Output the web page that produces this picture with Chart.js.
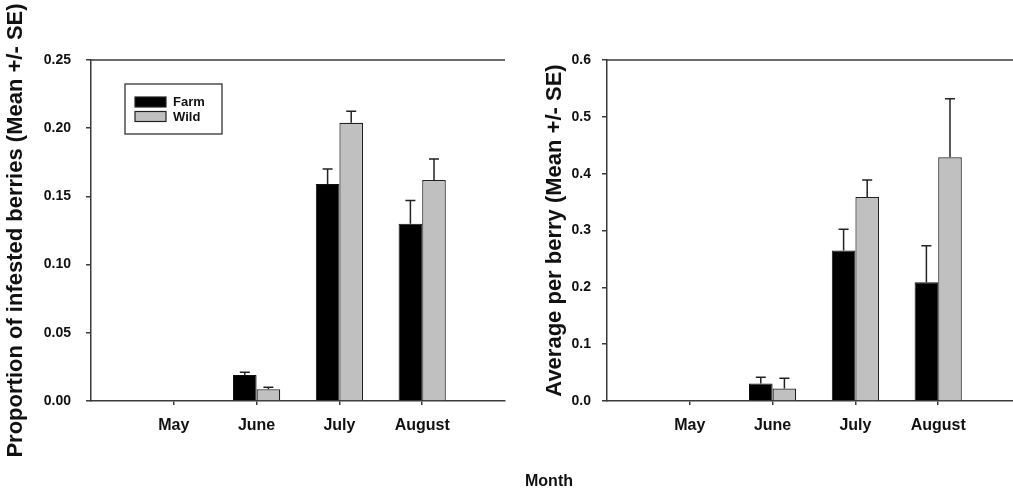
<!DOCTYPE html>
<html>
<head>
<meta charset="utf-8">
<script src="https://cdn.jsdelivr.net/npm/chart.js@4/dist/chart.umd.min.js"></script>
<style>
  html, body { margin: 0; padding: 0; background: #fff; }
  #wrap { position: relative; width: 1013px; height: 494px; overflow: hidden; }
  canvas { position: absolute; top: 0; }
  #month {
    position: absolute; left: 0; width: 1098px; top: 472px;
    text-align: center; font: bold 16px "Liberation Sans", Arial, sans-serif; color: #111;
  }
</style>
</head>
<body>
<div id="wrap">
  <canvas id="leftChart" width="506" height="494" style="left:0"></canvas>
  <canvas id="rightChart" width="520" height="494" style="left:506px"></canvas>
  <div id="month">Month</div>
</div>
<script>
// categories
const months = ['May', 'June', 'July', 'August'];
const seriesNames = ['Farm', 'Wild'];

// proportion of infested berries
const farmProp = [0, 0.019, 0.159, 0.130];
const farmPropSE = [0, 0.002, 0.011, 0.017];
const wildProp = [0, 0.0086, 0.204, 0.162];
const wildPropSE = [0, 0.0014, 0.0084, 0.0154];

// average per berry
const farmAvg = [0, 0.031, 0.265, 0.209];
const farmAvgSE = [0, 0.011, 0.037, 0.064];
const wildAvg = [0, 0.022, 0.359, 0.429];
const wildAvgSE = [0, 0.018, 0.030, 0.103];

// y axis ticks
const leftTicks = [0, 0.05, 0.10, 0.15, 0.20, 0.25];
const rightTicks = [0, 0.1, 0.2, 0.3, 0.4, 0.5, 0.6];

const FONT = '"Liberation Sans", Arial, sans-serif';
const INK = '#111';
const AXIS = '#3a3a3a';

// upward-only error bars with a cap
const errorBars = {
  id: 'errorBars',
  afterDatasetsDraw(chart) {
    const ctx = chart.ctx;
    const yScale = chart.scales.y;
    ctx.save();
    ctx.strokeStyle = '#222';
    ctx.lineWidth = 1.5;
    chart.data.datasets.forEach((ds, d) => {
      const meta = chart.getDatasetMeta(d);
      meta.data.forEach((bar, i) => {
        const se = ds.errors[i];
        if (!se) return;
        const top = yScale.getPixelForValue(ds.data[i].y + se);
        ctx.beginPath();
        ctx.moveTo(bar.x, bar.y);
        ctx.lineTo(bar.x, top);
        ctx.moveTo(bar.x - 5, top);
        ctx.lineTo(bar.x + 5, top);
        ctx.stroke();
      });
    });
    ctx.restore();
  }
};

// top frame line
const frameTop = {
  id: 'frameTop',
  afterDraw(chart) {
    const a = chart.chartArea;
    const ctx = chart.ctx;
    ctx.save();
    ctx.strokeStyle = AXIS;
    ctx.lineWidth = 1.5;
    ctx.beginPath();
    ctx.moveTo(a.left, a.top);
    ctx.lineTo(a.right, a.top);
    ctx.stroke();
    ctx.restore();
  }
};

// boxed legend inside the left plot
const boxLegend = {
  id: 'boxLegend',
  afterDraw(chart) {
    const ctx = chart.ctx;
    ctx.save();
    ctx.strokeStyle = '#222';
    ctx.lineWidth = 1.2;
    ctx.strokeRect(125, 84, 97, 50);
    chart.data.datasets.forEach((ds, i) => {
      const y = 97 + i * 14.5;
      ctx.fillStyle = ds.backgroundColor;
      ctx.fillRect(135, y, 31, 10);
      ctx.strokeRect(135, y, 31, 10);
      ctx.fillStyle = INK;
      ctx.font = 'bold 13px ' + FONT;
      ctx.textBaseline = 'middle';
      ctx.fillText(ds.label, 173, y + 5.5);
    });
    ctx.restore();
  }
};

function makeChart(id, farm, farmSE, wild, wildSE, yTicks, decimals, yTitle, opts) {
  const toPoints = arr => arr.map((v, i) => ({ x: i + 1, y: v }));
  return new Chart(document.getElementById(id), {
    type: 'bar',
    data: {
      datasets: [
        {
          label: seriesNames[0], data: toPoints(farm), errors: farmSE,
          backgroundColor: '#000000', borderColor: '#111', borderWidth: 1
        },
        {
          label: seriesNames[1], data: toPoints(wild), errors: wildSE,
          backgroundColor: '#c0c0c0', borderColor: '#222', borderWidth: 1.2
        }
      ]
    },
    options: {
      responsive: false,
      animation: false,
      layout: { padding: { top: 60, right: opts.right, left: 0, bottom: 0 } },
      categoryPercentage: 0.57,
      barPercentage: 1,
      plugins: { legend: { display: false }, tooltip: { enabled: false } },
      scales: {
        x: {
          type: 'linear', min: 0, max: 5, offset: false,
          afterBuildTicks: s => { s.ticks = months.map((m, i) => ({ value: i + 1 })); },
          afterFit: s => { s.height = 93; },
          grid: { offset: false, drawOnChartArea: false, drawTicks: true, tickLength: 4, color: AXIS, lineWidth: 1.5 },
          border: { display: true, color: AXIS, width: 1.5 },
          ticks: {
            autoSkip: false, maxRotation: 0, padding: 11, color: INK,
            font: { family: FONT, size: 16, weight: 'bold' },
            callback: v => months[v - 1]
          }
        },
        y: {
          min: yTicks[0], max: yTicks[yTicks.length - 1],
          afterBuildTicks: s => { s.ticks = yTicks.map(v => ({ value: v })); },
          afterFit: s => { s.width = opts.yWidth; },
          grid: { drawOnChartArea: false, drawTicks: true, tickLength: 5, color: AXIS, lineWidth: 1.5 },
          border: { display: true, color: AXIS, width: 1.5 },
          ticks: {
            padding: opts.tickPad, color: INK,
            font: { family: FONT, size: 14, weight: 'bold' },
            callback: v => v.toFixed(decimals)
          },
          title: {
            display: true, text: yTitle, color: INK,
            padding: { top: opts.titlePad, bottom: 0 },
            font: { family: FONT, size: 22, weight: 'bold' }
          }
        }
      }
    },
    plugins: opts.plugins
  });
}

makeChart('leftChart', farmProp, farmPropSE, wildProp, wildPropSE, leftTicks, 2,
  'Proportion of infested berries (Mean +/- SE)',
  { right: 1, yWidth: 91, tickPad: 15, titlePad: 3, plugins: [errorBars, frameTop, boxLegend] });

makeChart('rightChart', farmAvg, farmAvgSE, wildAvg, wildAvgSE, rightTicks, 1,
  'Average per berry (Mean +/- SE)',
  { right: 5, yWidth: 101, tickPad: 11, titlePad: 36, plugins: [errorBars, frameTop] });
</script>
</body>
</html>
